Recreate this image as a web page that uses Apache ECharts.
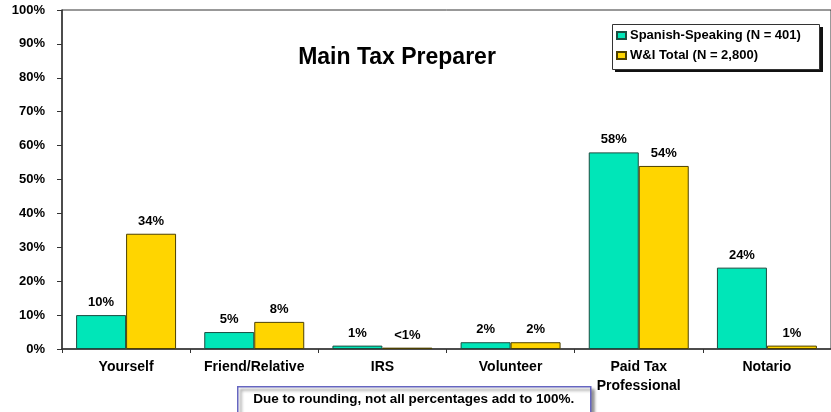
<!DOCTYPE html>
<html>
<head>
<meta charset="utf-8">
<script src="https://cdn.jsdelivr.net/npm/echarts@6/dist/echarts.min.js"></script>
<style>
  html, body { margin: 0; padding: 0; background: #fff; }
  #chart { width: 831px; height: 412px; }
</style>
</head>
<body>
<div id="chart"></div>
<script>
// Who prepared the return: share of respondents per preparer type
const categories = ['Yourself', 'Friend/Relative', 'IRS', 'Volunteer', 'Paid Tax\nProfessional', 'Notario'];
const spanishSpeaking = [10, 5, 1, 2, 58, 24];
const wiTotal = [34, 8, 0.4, 2, 54, 1];
const seriesNames = ['Spanish-Speaking (N = 401)', 'W&I Total (N = 2,800)'];
const yTicks = [0, 10, 20, 30, 40, 50, 60, 70, 80, 90, 100];

const FONT = 'Arial, "Liberation Sans", sans-serif';

const pctLabel = v => (v < 1 ? '<1%' : Math.round(v) + '%');

const chart = echarts.init(document.getElementById('chart'), null, { renderer: 'canvas' });

const barLabel = {
  show: true,
  position: 'top',
  distance: 6,
  color: '#000',
  fontFamily: FONT,
  fontWeight: 'bold',
  fontSize: 13,
  formatter: p => pctLabel(p.value)
};

chart.setOption({
  backgroundColor: '#ffffff',
  animation: false,
  grid: {
    left: 62, right: -6, top: 10, bottom: 63,
    show: true, borderColor: '#333', borderWidth: 1
  },
  legend: {
    orient: 'vertical',
    left: 613, top: 27,
    padding: [2, 4, 2, 3],
    itemWidth: 9, itemHeight: 7, itemGap: 7,
    icon: 'rect',
    z: 10,
    textStyle: { fontFamily: FONT, fontWeight: 'bold', fontSize: 13, color: '#000', padding: [0, 0, 0, -1] },
    data: seriesNames
  },
  xAxis: {
    type: 'category',
    data: categories,
    axisLine: { lineStyle: { color: '#333', width: 1.5 } },
    axisTick: { show: true, length: 4, lineStyle: { color: '#333' } },
    axisLabel: {
      color: '#000', fontFamily: FONT, fontWeight: 'bold', fontSize: 14,
      margin: 9, lineHeight: 19, interval: 0
    }
  },
  yAxis: {
    type: 'value',
    min: 0, max: 100, interval: 10,
    axisLine: { show: true, lineStyle: { color: '#333', width: 1.5 } },
    axisTick: { show: true, length: 5, lineStyle: { color: '#333' } },
    splitLine: { show: false },
    axisLabel: {
      color: '#000', fontFamily: FONT, fontWeight: 'bold', fontSize: 13,
      margin: 17,
      formatter: v => (yTicks.includes(v) ? v + '%' : '')
    }
  },
  series: [
    {
      name: seriesNames[0],
      type: 'bar',
      data: spanishSpeaking,
      barGap: '0%',
      barCategoryGap: '22%',
      itemStyle: { color: '#00E6B8', borderColor: '#1a4d40', borderWidth: 1 },
      label: barLabel
    },
    {
      name: seriesNames[1],
      type: 'bar',
      data: wiTotal,
      barGap: '0%',
      barCategoryGap: '22%',
      itemStyle: { color: '#FFD500', borderColor: '#4d4000', borderWidth: 1 },
      label: barLabel
    }
  ],
  graphic: [
    {
      type: 'text',
      x: 397, y: 58,
      style: {
        text: 'Main Tax Preparer',
        fill: '#000',
        font: 'bold 23px ' + FONT,
        textAlign: 'center',
        textVerticalAlign: 'middle'
      }
    },
    // legend frame with a hard drop shadow
    {
      type: 'rect',
      z: 5,
      shape: { x: 615, y: 27, width: 208, height: 45 },
      style: { fill: '#111' }
    },
    {
      type: 'rect',
      z: 6,
      shape: { x: 612.5, y: 24.5, width: 207, height: 45 },
      style: { fill: '#fff', stroke: '#333', lineWidth: 1 }
    },
    {
      type: 'group',
      left: 237, top: 386,
      children: [
        {
          type: 'rect',
          shape: { x: 0, y: 0, width: 353, height: 40 },
          style: {
            fill: '#fff', stroke: '#6666c0', lineWidth: 1.5,
            shadowColor: 'rgba(0,0,0,0.45)', shadowBlur: 3, shadowOffsetX: 3, shadowOffsetY: 3
          }
        },
        {
          type: 'text',
          x: 176, y: 13,
          style: {
            text: 'Due to rounding, not all percentages add to 100%.',
            fill: '#000',
            font: 'bold 13.5px ' + FONT,
            textAlign: 'center',
            textVerticalAlign: 'middle'
          }
        }
      ]
    }
  ]
});
</script>
</body>
</html>
